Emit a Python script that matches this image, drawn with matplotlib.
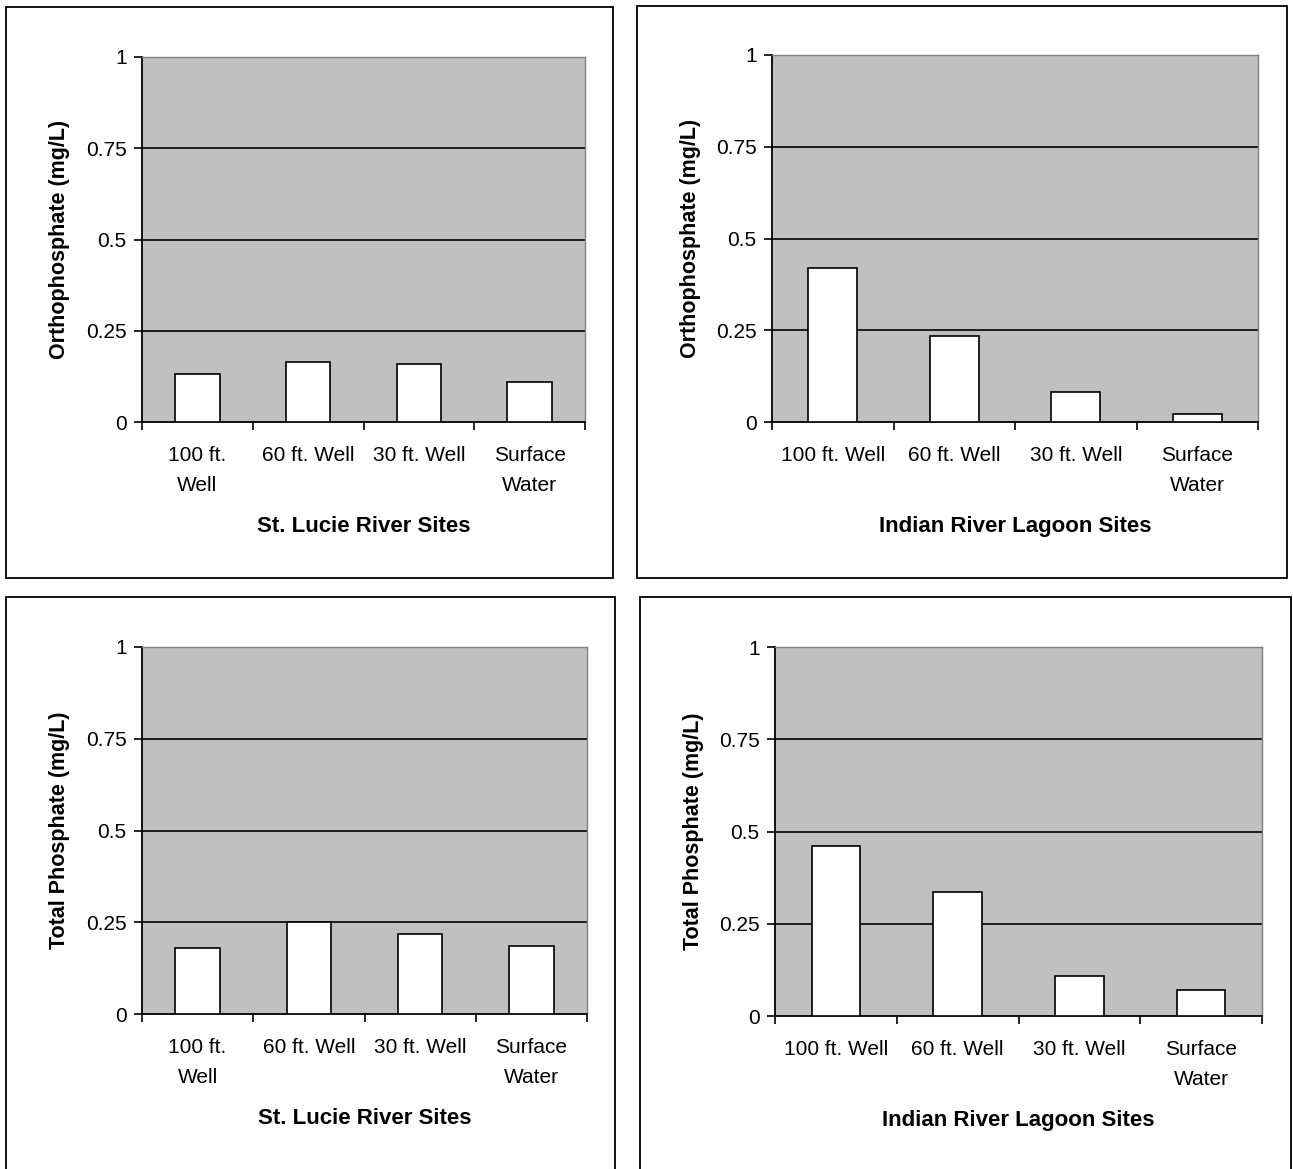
import matplotlib
matplotlib.use("Agg")
import matplotlib.pyplot as plt
from matplotlib.patches import Rectangle

plt.rcParams['font.family'] = ['Liberation Sans', 'DejaVu Sans']

# data
sites_slr = ["100 ft.\nWell", "60 ft. Well", "30 ft. Well", "Surface\nWater"]
sites_irl = ["100 ft. Well", "60 ft. Well", "30 ft. Well", "Surface\nWater"]
ortho_slr = [0.131, 0.164, 0.159, 0.110]
ortho_irl = [0.420, 0.234, 0.082, 0.022]
total_slr = [0.180, 0.250, 0.218, 0.185]
total_irl = [0.461, 0.336, 0.108, 0.070]
yticks = [0, 0.25, 0.5, 0.75, 1]
ytick_labels = ["0", "0.25", "0.5", "0.75", "1"]

W, H = 1293, 1169
fig = plt.figure(figsize=(W / 100, H / 100), dpi=100)
fig.patch.set_facecolor("white")


def px(l, t, r, b):
    return [l / W, 1 - b / H, (r - l) / W, (b - t) / H]


def panel(frame, axbox, labels, values, ylabel, xlabel):
    l, t, r, b = frame
    fig.patches.append(Rectangle((l / W, 1 - b / H), (r - l) / W, (b - t) / H,
                                 transform=fig.transFigure, fill=False,
                                 edgecolor="black", linewidth=1.3))
    ax = fig.add_axes(px(*axbox))
    ax.set_facecolor("#c0c0c0")
    ax.set_axisbelow(True)
    x = range(len(values))
    ax.bar(x, values, width=0.4, color="white", edgecolor="black", linewidth=1.2, zorder=3)
    ax.set_xlim(-0.5, len(values) - 0.5)
    ax.set_ylim(0, 1)
    ax.set_yticks(yticks)
    ax.set_yticklabels(ytick_labels)
    for y in yticks[1:-1]:
        ax.axhline(y, color="black", linewidth=1.2, zorder=1)
    # category boundary ticks, labels at centres
    ax.set_xticks([i - 0.5 for i in range(len(values) + 1)])
    ax.set_xticklabels([])
    ax.set_xticks(list(x), minor=True)
    ax.set_xticklabels(labels, minor=True, linespacing=1.75)
    ax.tick_params(axis="x", which="major", direction="out", length=6, width=1.2, color="black")
    ax.tick_params(axis="x", which="minor", length=0, pad=17, labelsize=15)
    ax.tick_params(axis="y", direction="out", length=6, width=1.2, pad=5, labelsize=15)
    for side in ("left", "bottom"):
        ax.spines[side].set_color("black")
        ax.spines[side].set_linewidth(1.3)
    for side in ("top", "right"):
        ax.spines[side].set_color("#808080")
        ax.spines[side].set_linewidth(1.0)
    ax.set_ylabel(ylabel, fontsize=15.5, fontweight="bold")
    ax.set_xlabel(xlabel, fontsize=16, fontweight="bold")
    al, at, ar, ab = axbox
    ax.yaxis.set_label_coords(-(al - l - 64) / (ar - al), 0.5)
    ax.xaxis.set_label_coords(0.5, -94 / (ab - at))
    return ax


panel((6, 7, 613, 578), (142, 57, 585, 422), sites_slr, ortho_slr,
      "Orthophosphate (mg/L)", "St. Lucie River Sites")
panel((637, 6, 1287, 578), (772, 55, 1258, 422), sites_irl, ortho_irl,
      "Orthophosphate (mg/L)", "Indian River Lagoon Sites")
panel((6, 597, 615, 1175), (142, 647, 587, 1014), sites_slr, total_slr,
      "Total Phosphate (mg/L)", "St. Lucie River Sites")
panel((640, 597, 1291, 1175), (775, 647, 1262, 1016), sites_irl, total_irl,
      "Total Phosphate (mg/L)", "Indian River Lagoon Sites")

fig.savefig("out.png", dpi=100, facecolor="white")
